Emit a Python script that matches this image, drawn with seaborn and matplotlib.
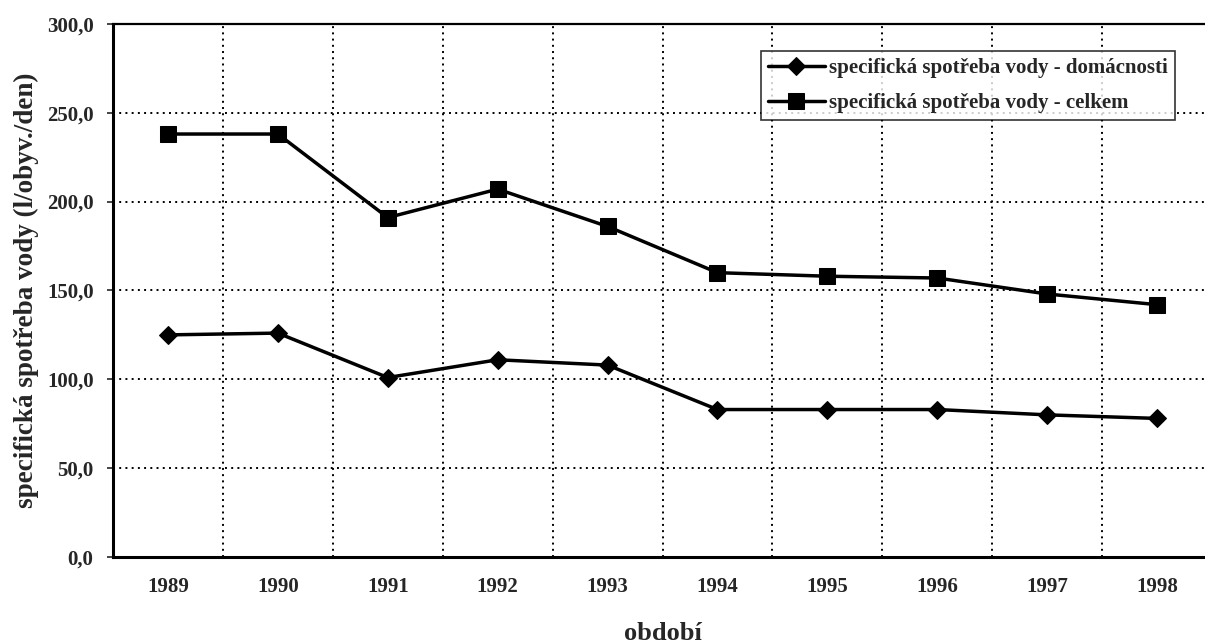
import pandas as pd
import matplotlib.pyplot as plt
import matplotlib.ticker as mticker
import seaborn as sns

years = [1989, 1990, 1991, 1992, 1993, 1994, 1995, 1996, 1997, 1998]
domacnosti = [125, 126, 101, 111, 108, 83, 83, 83, 80, 78]
celkem = [238, 238, 191, 207, 186, 160, 158, 157, 148, 142]

lab_dom = "specifická spotřeba vody - domácnosti"
lab_cel = "specifická spotřeba vody - celkem"

df = pd.DataFrame({
    "rok": years * 2,
    "hodnota": domacnosti + celkem,
    "serie": [lab_dom] * len(years) + [lab_cel] * len(years),
})

sns.set_style("white")
plt.rcParams["font.family"] = ["Liberation Serif", "DejaVu Serif"]
plt.rcParams["font.weight"] = "bold"

fig = plt.figure(figsize=(12.05, 6.44), dpi=100)
ax = fig.add_axes([0.0938, 0.135, 0.912, 0.828])

sns.lineplot(data=df, x="rok", y="hodnota", hue="serie", style="serie",
             markers={lab_dom: "D", lab_cel: "s"}, dashes=False,
             palette={lab_dom: "black", lab_cel: "black"},
             linewidth=2.5, markersize=10, markeredgecolor="black", ax=ax)
for line in ax.get_lines():
    if line.get_marker() == "D":
        line.set_markersize(9)
    else:
        line.set_markersize(11.5)

ax.set_xlim(1988.5, 1998.5)
ax.set_ylim(0, 300)
ax.set_xticks(years)
ax.set_xticklabels([str(y) for y in years])
ax.set_yticks(range(0, 301, 50))
ax.yaxis.set_major_formatter(mticker.FuncFormatter(lambda v, p: f"{v:.1f}".replace(".", ",")))
ax.set_xticks([y + 0.5 for y in years[:-1]], minor=True)

ax.grid(axis="y", which="major", color="black", linestyle=(0, (1, 2.2)), linewidth=1.4)
ax.grid(axis="x", which="minor", color="black", linestyle=(0, (1, 2.2)), linewidth=1.4)

for s in ["left", "bottom"]:
    ax.spines[s].set_linewidth(2.2)
    ax.spines[s].set_color("black")
ax.spines["top"].set_linewidth(1.6)
ax.spines["top"].set_color("black")
ax.spines["right"].set_visible(False)

ax.tick_params(axis="y", which="major", direction="out", length=4, width=1.2,
               labelsize=15, pad=10, left=True)
ax.tick_params(axis="x", which="both", length=0, labelsize=15, pad=14)

ax.set_xlabel("období", fontsize=19, fontweight="bold", labelpad=18)
ax.set_ylabel("specifická spotřeba vody (l/obyv./den)", fontsize=19.5,
              fontweight="bold", labelpad=6)

leg = ax.legend(loc="upper left", bbox_to_anchor=(761 / 1205, 1 - 51 / 644),
                bbox_transform=fig.transFigure, frameon=True, fancybox=False,
                fontsize=15, handlelength=2.7, borderpad=0.35, labelspacing=0.7,
                handletextpad=0.2, borderaxespad=0)
leg.get_frame().set_edgecolor("black")
leg.get_frame().set_linewidth(1.2)
for h in leg.legend_handles:
    h.set_linewidth(2.5)
    h.set_markersize(9 if h.get_marker() == "D" else 11.5)

fig.savefig("out.png", dpi=100)
